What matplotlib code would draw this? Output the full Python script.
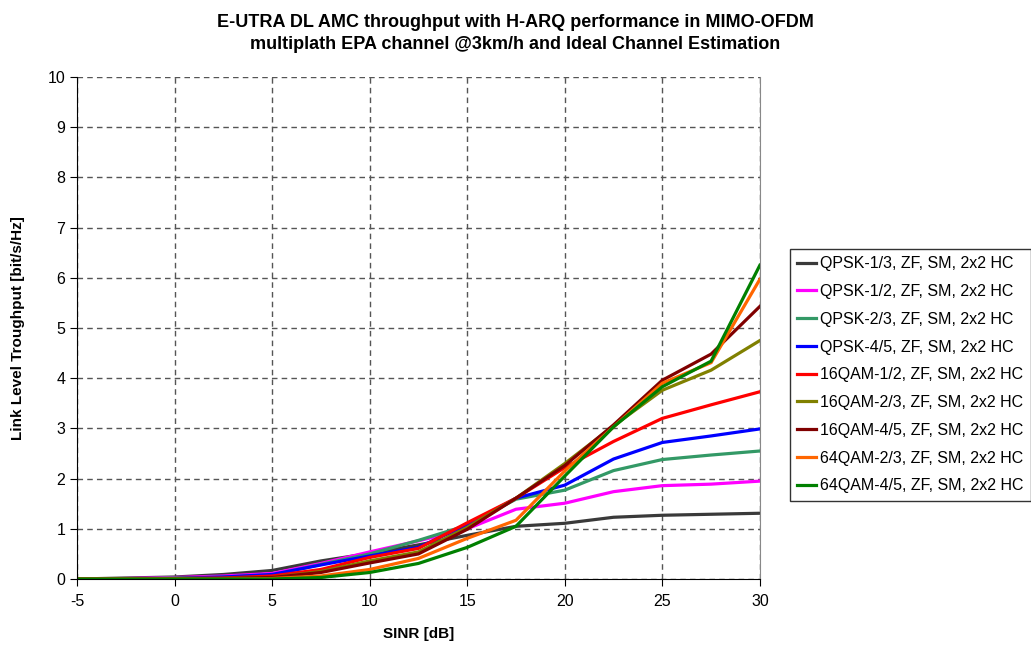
import matplotlib.pyplot as plt
import numpy as np

plt.rcParams['font.family'] = ['Liberation Sans', 'DejaVu Sans']
plt.rcParams['axes.unicode_minus'] = False

sinr = [-5, -2.5, 0, 2.5, 5, 7.5, 10, 12.5, 15, 17.5, 20, 22.5, 25, 27.5, 30]

qpsk_13 = [0.0, 0.02, 0.04, 0.09, 0.17, 0.36, 0.51, 0.68, 0.87, 1.05, 1.11, 1.23, 1.27, 1.29, 1.31]
qpsk_12 = [0.0, 0.01, 0.03, 0.06, 0.11, 0.31, 0.54, 0.76, 1.00, 1.39, 1.51, 1.74, 1.86, 1.89, 1.95]
qpsk_23 = [0.0, 0.0, 0.02, 0.04, 0.08, 0.29, 0.50, 0.77, 1.07, 1.59, 1.77, 2.16, 2.38, 2.47, 2.55]
qpsk_45 = [0.0, 0.0, 0.01, 0.04, 0.09, 0.28, 0.46, 0.63, 1.08, 1.61, 1.87, 2.39, 2.72, 2.85, 2.99]
qam16_12 = [0.0, 0.0, 0.01, 0.02, 0.06, 0.19, 0.43, 0.61, 1.12, 1.61, 2.22, 2.74, 3.20, 3.47, 3.73]
qam16_23 = [0.0, 0.0, 0.0, 0.01, 0.03, 0.15, 0.36, 0.54, 1.03, 1.61, 2.30, 3.05, 3.76, 4.16, 4.75]
qam16_45 = [0.0, 0.0, 0.0, 0.01, 0.03, 0.13, 0.32, 0.50, 0.99, 1.61, 2.26, 3.07, 3.96, 4.48, 5.43]
qam64_23 = [0.0, 0.0, 0.0, 0.0, 0.01, 0.06, 0.19, 0.41, 0.81, 1.17, 2.15, 3.03, 3.90, 4.31, 5.97]
qam64_45 = [0.0, 0.0, 0.0, 0.0, 0.0, 0.03, 0.13, 0.31, 0.63, 1.05, 2.05, 3.03, 3.83, 4.34, 6.25]

labels = ["QPSK-1/3, ZF, SM, 2x2 HC", "QPSK-1/2, ZF, SM, 2x2 HC",
          "QPSK-2/3, ZF, SM, 2x2 HC", "QPSK-4/5, ZF, SM, 2x2 HC",
          "16QAM-1/2, ZF, SM, 2x2 HC", "16QAM-2/3, ZF, SM, 2x2 HC",
          "16QAM-4/5, ZF, SM, 2x2 HC", "64QAM-2/3, ZF, SM, 2x2 HC",
          "64QAM-4/5, ZF, SM, 2x2 HC"]
series = [qpsk_13, qpsk_12, qpsk_23, qpsk_45, qam16_12, qam16_23, qam16_45, qam64_23, qam64_45]
colors = ["#3a3a3a", "#ff00ff", "#339966", "#0000ff", "#ff0000",
          "#808000", "#800000", "#ff6600", "#008000"]

fig = plt.figure(figsize=(10.31, 6.45), dpi=100)
ax = fig.add_axes([0.0747, 0.1023, 0.6623, 0.7783])

for y, c, lab in zip(series, colors, labels):
    ax.plot(sinr, y, color=c, lw=2.3, label=lab, solid_joinstyle='miter')

ax.set_xlim(-5, 30)
ax.set_ylim(0, 10)
ax.set_xticks(np.arange(-5, 31, 5))
ax.set_yticks(np.arange(0, 11, 1))
ax.grid(True, color="#555555", ls=(0, (4, 3)), lw=1.0)
ax.set_axisbelow(True)
ax.spines["top"].set_visible(False)
ax.spines["right"].set_color("#888888")
ax.spines["left"].set_color("black")
ax.spines["bottom"].set_color("black")
ax.tick_params(axis="both", direction="out", length=5, labelsize=11.5, color="black")
ax.tick_params(axis="x", pad=6)
ax.tick_params(axis="y", right=False)

ax.set_xlabel("SINR [dB]", fontsize=11, fontweight="bold", labelpad=13)
ax.set_ylabel("Link Level Troughput [bit/s/Hz]", fontsize=11, fontweight="bold", labelpad=16)

fig.text(0.5, 0.978, "E-UTRA DL AMC throughput with H-ARQ performance in MIMO-OFDM\n"
         "multiplath EPA channel @3km/h and Ideal Channel Estimation",
         ha="center", va="top", fontsize=13, fontweight="bold", linespacing=1.4)

leg = fig.legend(loc="upper left", bbox_to_anchor=(790 / 1031, 1 - 249 / 645),
                 fontsize=11.5, frameon=True, fancybox=False, handlelength=1.2,
                 handletextpad=0.25, labelspacing=0.8, borderpad=0.45,
                 borderaxespad=0)
leg.get_frame().set_edgecolor("black")
leg.get_frame().set_linewidth(1.0)

fig.savefig("out.png", dpi=100)
